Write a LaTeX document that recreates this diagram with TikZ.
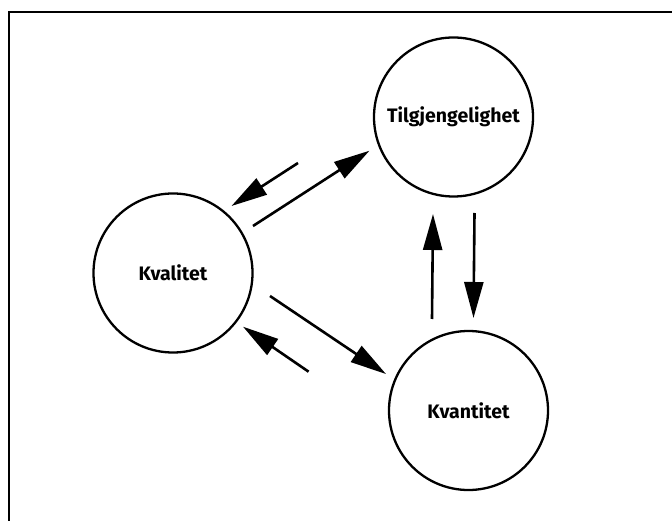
\documentclass[tikz,border=0pt]{standalone}
\usepackage{fontspec}
\setmainfont{Fira Sans}
\usetikzlibrary{arrows.meta}
\begin{document}
\begin{tikzpicture}[x=1pt,y=-1pt,
  ring/.style={circle,draw,line width=2.3pt,minimum size=159pt,inner sep=0pt,
    font=\fontsize{19.5}{22}\selectfont\bfseries},
  arr/.style={line width=2.6pt,-{Triangle[length=36pt,width=19pt]}},
  frame/.style={line width=1.8pt}]
\useasboundingbox (0,0) rectangle (672,521);
\coordinate (ftl) at (9,12);
\coordinate (ftr) at (672,12);
\coordinate (fbl) at (9,521);
\draw[frame] (ftr) -- (ftl) -- (fbl);
\node[ring] (tilg) at (453.5,117) {Tilgjengelighet};
\node[ring] (kval) at (173,273) {Kvalitet};
\node[ring] (kvan) at (468.5,410.5) {Kvantitet};
% arrow end points
\coordinate (a1s) at (253,226);   \coordinate (a1e) at (369.5,150.7);
\coordinate (a2s) at (298,163);   \coordinate (a2e) at (231.5,206);
\coordinate (a3s) at (270,296);   \coordinate (a3e) at (386,374);
\coordinate (a4s) at (308.6,371.7); \coordinate (a4e) at (243,326.7);
\coordinate (a5s) at (432,319);   \coordinate (a5e) at (433,214);
\coordinate (a6s) at (474.5,213); \coordinate (a6e) at (473.5,318);
\draw[arr] (a1s) -- (a1e);
\draw[arr] (a2s) -- (a2e);
\draw[arr] (a3s) -- (a3e);
\draw[arr] (a4s) -- (a4e);
\draw[arr] (a5s) -- (a5e);
\draw[arr] (a6s) -- (a6e);
\end{tikzpicture}
\end{document}
